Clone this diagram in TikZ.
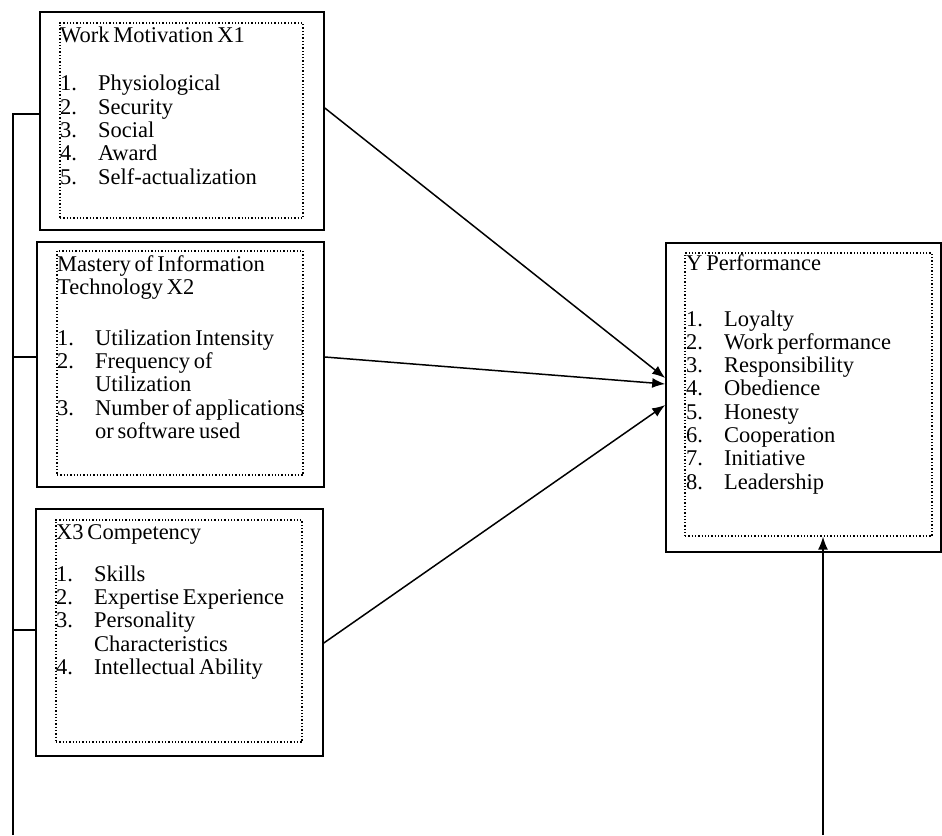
\documentclass[tikz,border=0pt]{standalone}
\usepackage{fontspec}
\setmainfont{Liberation Serif}
\usetikzlibrary{arrows.meta}

\newcommand{\listfont}{\fontsize{22.5}{23.3}\selectfont\spaceskip=0.17em plus 0.05em\relax}
\newcommand{\itm}[2]{\makebox[38pt][l]{#1}#2}
\newcommand{\cnt}{\hspace*{38pt}}

\begin{document}
\begin{tikzpicture}[x=1pt,y=-1pt,
    outerbox/.style={draw, line width=1.6pt, inner sep=0pt},
    innerbox/.style={draw, dotted, line width=1.3pt, inner sep=0pt},
    listtext/.style={anchor=north west, inner sep=0pt, align=left, font=\listfont},
    link/.style={line width=1.5pt},
    arr/.style={line width=1.5pt, -{Latex[length=13pt,width=10pt]}}]

  \useasboundingbox (0,0) rectangle (942,835);

  % X1
  \node[outerbox, minimum width=284pt, minimum height=218pt] (motiv) at (182,121) {};
  \node[innerbox, minimum width=243pt, minimum height=195pt] (motivin) at (181.5,120.5) {};
  \node[listtext] (motivtxt) at (60,27) {Work Motivation X1\\[24.7pt]
    \itm{1.}{Physiological}\\
    \itm{2.}{Security}\\
    \itm{3.}{Social}\\
    \itm{4.}{Award}\\
    \itm{5.}{Self-actualization}};

  % X2
  \node[outerbox, minimum width=287pt, minimum height=245pt] (mastery) at (180.5,364.5) {};
  \node[innerbox, minimum width=246pt, minimum height=224pt] (masteryin) at (180,363) {};
  \node[listtext] (masterytxt) at (57,255) {Mastery of Information\\
    Technology X2\\[27.7pt]
    \itm{1.}{Utilization Intensity}\\
    \itm{2.}{Frequency of}\\
    \cnt Utilization\\
    \itm{3.}{Number of applications}\\
    \cnt or software used};

  % X3
  \node[outerbox, minimum width=287pt, minimum height=247pt] (compet) at (179.5,632.5) {};
  \node[innerbox, minimum width=246pt, minimum height=222pt] (competin) at (179,631) {};
  \node[listtext] (compettxt) at (56,524) {X3 Competency\\[18.7pt]
    \itm{1.}{Skills}\\
    \itm{2.}{Expertise Experience}\\
    \itm{3.}{Personality}\\
    \cnt Characteristics\\
    \itm{4.}{Intellectual Ability}};

  % Y
  \node[outerbox, minimum width=275pt, minimum height=309pt] (perf) at (803.5,397.5) {};
  \node[innerbox, minimum width=247pt, minimum height=283pt] (perfin) at (808.5,394.5) {};
  \node[listtext] (perftxt) at (686,254) {Y Performance\\[32.7pt]
    \itm{1.}{Loyalty}\\
    \itm{2.}{Work performance}\\
    \itm{3.}{Responsibility}\\
    \itm{4.}{Obedience}\\
    \itm{5.}{Honesty}\\
    \itm{6.}{Cooperation}\\
    \itm{7.}{Initiative}\\
    \itm{8.}{Leadership}};

  \coordinate (bustop) at (13,114);
  \coordinate (busmid) at (13,357);
  \coordinate (buslow) at (13,630);
  \coordinate (busbot) at (13,835);
  \coordinate (perffoot) at (823,835);

  \draw[link] (busbot) -- (bustop) -- (bustop -| motiv.west);
  \draw[link] (busmid) -- (busmid -| mastery.west);
  \draw[link] (buslow) -- (buslow -| compet.west);

  \draw[arr] ([yshift=13pt]motiv.east) -- ([yshift=19.5pt]perf.west);
  \draw[arr] ([yshift=7.5pt]mastery.east) -- ([yshift=13.5pt]perf.west);
  \draw[arr] ([yshift=-10.5pt]compet.east) -- ([yshift=-7.5pt]perf.west);
  \draw[arr] (perffoot) -- (perffoot |- perfin.south);
\end{tikzpicture}
\end{document}
